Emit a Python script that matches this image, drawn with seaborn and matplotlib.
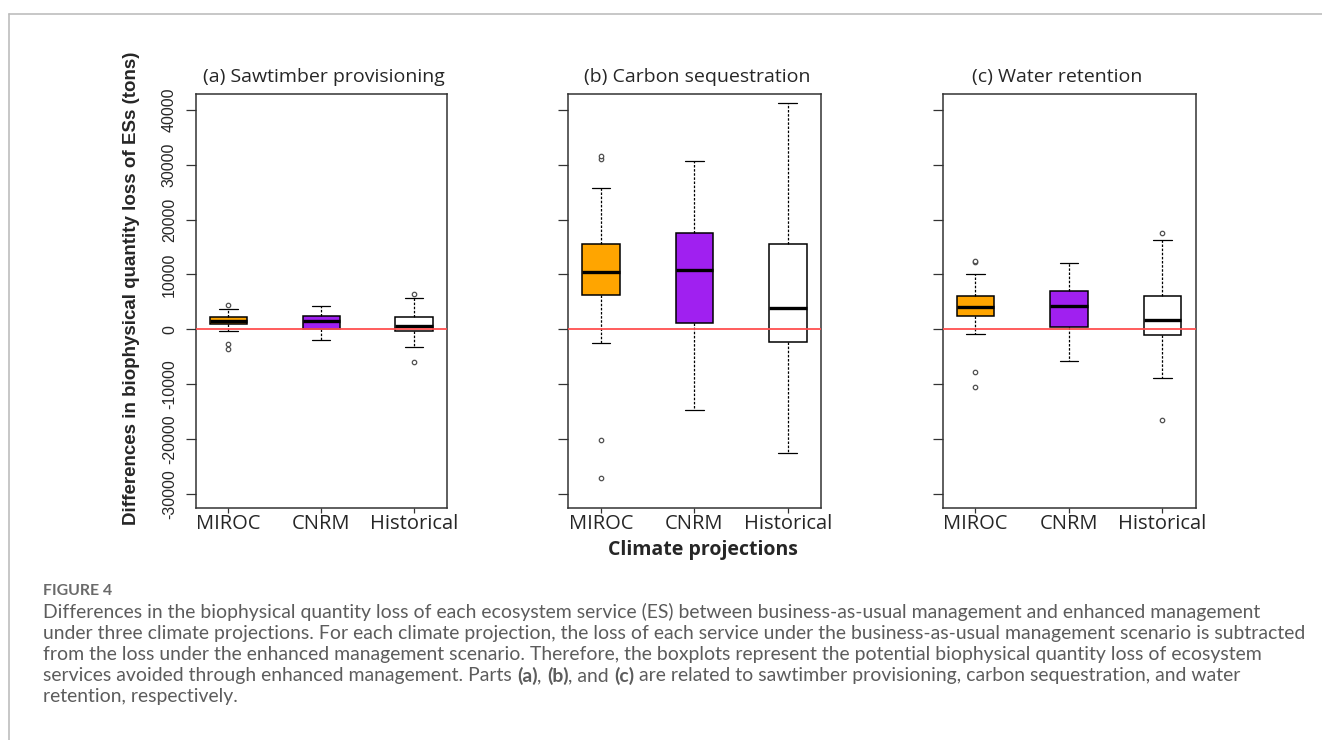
import numpy as np
import pandas as pd
import matplotlib
matplotlib.use("Agg")
import matplotlib.pyplot as plt
from matplotlib.lines import Line2D
import seaborn as sns

# ---------------- data ----------------
CATEGORIES = ["MIROC", "CNRM", "Historical"]
BOX_COLORS = ["#FFA500", "#A020F0", "#FFFFFF"]
PANEL_TITLES = ["(a) Sawtimber provisioning", "(b) Carbon sequestration", "(c) Water retention"]
Y_TICKS = [-30000, -20000, -10000, 0, 10000, 20000, 30000, 40000]

# (a) Sawtimber provisioning: whisker low, Q1, median, Q3, whisker high
saw_low = [-240, -1940, -3160]
saw_q1 = [970, 120, -240]
saw_median = [1580, 1580, 670]
saw_q3 = [2190, 2490, 2250]
saw_high = [3650, 4310, 5770]
saw_out_group = ["MIROC", "MIROC", "MIROC", "Historical", "Historical"]
saw_out_value = [4430, -2730, -3650, 6380, -5890]

# (b) Carbon sequestration
carb_low = [-2550, -14760, -22480]
carb_q1 = [6260, 1090, -2370]
carb_median = [10450, 10750, 3890]
carb_q3 = [15490, 17620, 15610]
carb_high = [25700, 30740, 41310]
carb_out_group = ["MIROC", "MIROC", "MIROC", "MIROC"]
carb_out_value = [31100, 31500, -20110, -27100]

# (c) Water retention
wat_low = [-910, -5770, -8810]
wat_q1 = [2430, 360, -970]
wat_median = [4130, 4250, 1640]
wat_q3 = [6080, 6990, 6080]
wat_high = [10150, 12150, 16280]
wat_out_group = ["MIROC", "MIROC", "MIROC", "MIROC", "Historical", "Historical"]
wat_out_value = [12350, 12500, -7840, -10570, 17620, -16460]

Y_LABEL = "Differences in biophysical quantity loss of ESs (tons)"
X_LABEL = "Climate projections"
FIG_LABEL = "FIGURE 4"
CAPTION_LINES = [
    [("Differences in the biophysical quantity loss of each ecosystem service (ES) between business-as-usual management and enhanced management", False, False)],
    [("under three climate projections. For each climate projection, the loss of each service under the business-as-usual management scenario is subtracted", False, False)],
    [("from the loss under the enhanced management scenario. Therefore, the boxplots represent the potential biophysical quantity loss of ecosystem", False, False)],
    [("services avoided through enhanced management. Parts", False, True), ("(a)", True, False), (",", False, True),
     ("(b)", True, False), (", and", False, True), ("(c)", True, True),
     ("are related to sawtimber provisioning, carbon sequestration, and water", False, False)],
    [("retention, respectively.", False, False)],
]

panels = [
    (PANEL_TITLES[0], (saw_low, saw_q1, saw_median, saw_q3, saw_high), saw_out_group, saw_out_value),
    (PANEL_TITLES[1], (carb_low, carb_q1, carb_median, carb_q3, carb_high), carb_out_group, carb_out_value),
    (PANEL_TITLES[2], (wat_low, wat_q1, wat_median, wat_q3, wat_high), wat_out_group, wat_out_value),
]

# ---------------- style ----------------
sns.set_style("white")
plt.rcParams["font.family"] = ["Liberation Sans", "DejaVu Sans"]

W, H = 1322, 740
fig = plt.figure(figsize=(W / 100, H / 100), dpi=100)
fig.patch.set_facecolor("white")


def fx(x):
    return x / W


def fy(y):
    return 1 - y / H


AX_LEFT = [195.7, 568.3, 942.7]
AX_RIGHT = [447.0, 821.0, 1195.7]
AX_TOP, AX_BOTTOM = 94.0, 508.0
TITLE_X = [323.5, 697.5, 1057.0]
TITLE_Y = 76.7
TITLE_FONT = ["Open Sans", "DejaVu Sans"]

for i, (title, stats, outg, outv) in enumerate(panels):
    ax = fig.add_axes([fx(AX_LEFT[i]), fy(AX_BOTTOM), (AX_RIGHT[i] - AX_LEFT[i]) / W, (AX_BOTTOM - AX_TOP) / H])
    rows = []
    for k, c in enumerate(CATEGORIES):
        for s in stats:
            rows.append((c, s[k]))
    df = pd.DataFrame(rows, columns=["projection", "value"])
    sns.boxplot(
        data=df, x="projection", y="value", hue="projection",
        order=CATEGORIES, hue_order=CATEGORIES, palette=BOX_COLORS,
        saturation=1, whis=(0, 100), showfliers=False, width=0.4,
        linecolor="black", linewidth=1.1, legend=False, ax=ax,
        medianprops=dict(color="black", linewidth=2.4),
        whiskerprops=dict(color="black", linewidth=0.9, linestyle=(0, (2.0, 1.3))),
        capprops=dict(color="black", linewidth=0.9),
    )
    odf = pd.DataFrame({"projection": outg, "value": outv})
    sns.stripplot(
        data=odf, x="projection", y="value", order=CATEGORIES, jitter=False,
        color="white", edgecolor="#505050", linewidth=0.9, size=3.2, ax=ax, zorder=4,
    )
    ax.axhline(0, color="#FF4F4F", lw=1.3, zorder=6)

    ax.set_xlim(-0.35, 2.355)
    ax.set_ylim(-32575, 42890)
    ax.set_yticks(Y_TICKS)
    if i == 0:
        ax.set_yticklabels([str(t) for t in Y_TICKS], rotation=90, va="center", fontsize=11.5)
    else:
        ax.tick_params(labelleft=False)
    ax.set_xticks(range(len(CATEGORIES)))
    ax.set_xticklabels(CATEGORIES, fontsize=14.5, family=TITLE_FONT)
    ax.tick_params(axis="y", left=True, length=7, width=0.9, color="#333333", pad=6.5)
    ax.tick_params(axis="x", bottom=True, length=3.5, width=0.9, color="#333333", pad=0.5)
    for sp in ax.spines.values():
        sp.set_visible(True)
        sp.set_color("#333333")
        sp.set_linewidth(1.1)
    ax.set_xlabel("")
    ax.set_ylabel("")

    fig.text(fx(TITLE_X[i]), fy(TITLE_Y), title, ha="center", va="center", fontsize=14, family=TITLE_FONT)

fig.text(fx(132), fy(288), Y_LABEL, rotation=90, ha="center", va="center", fontsize=13.5, fontweight="bold")
fig.text(fx(702.5), fy(550), X_LABEL, ha="center", va="center", fontsize=14, fontweight="bold", family=TITLE_FONT)

# frame lines of the figure page
fig.add_artist(Line2D([fx(9), fx(W)], [fy(14), fy(14)], color="#BDBDBD", lw=1.2, transform=fig.transFigure))
fig.add_artist(Line2D([fx(9), fx(9)], [fy(14), fy(H)], color="#BDBDBD", lw=1.2, transform=fig.transFigure))

# caption
CAP_FONT = ["Lato", "DejaVu Sans"]
CAP_COLOR = "#5C5C5C"
fig.canvas.draw()
renderer = fig.canvas.get_renderer()

probe = fig.text(0, 0, CAPTION_LINES[1][0][0], fontsize=10, family=CAP_FONT)
w10 = probe.get_window_extent(renderer).width
probe.remove()
cap_size = 10 * (1305 - 43) / w10

sp1 = fig.text(0, 0, "a a", fontsize=cap_size, family=CAP_FONT)
sp2 = fig.text(0, 0, "aa", fontsize=cap_size, family=CAP_FONT)
space_w = sp1.get_window_extent(renderer).width - sp2.get_window_extent(renderer).width
sp1.remove()
sp2.remove()

fig.text(fx(43), fy(590.7), FIG_LABEL, ha="left", va="center", fontsize=cap_size * 0.82,
         fontweight="bold", family=CAP_FONT, color="#6A6A6A")

line_y = [611.7, 633.0, 654.3, 675.6, 696.9]
for ly, segs in zip(line_y, CAPTION_LINES):
    x = 43.0
    for text, bold, space_after in segs:
        t = fig.text(fx(x), fy(ly), text, ha="left", va="center", fontsize=cap_size,
                     fontweight="bold" if bold else "normal", family=CAP_FONT, color=CAP_COLOR)
        x += t.get_window_extent(renderer).width + (space_w if space_after else 0)

fig.savefig("out.png", dpi=100, facecolor="white")
